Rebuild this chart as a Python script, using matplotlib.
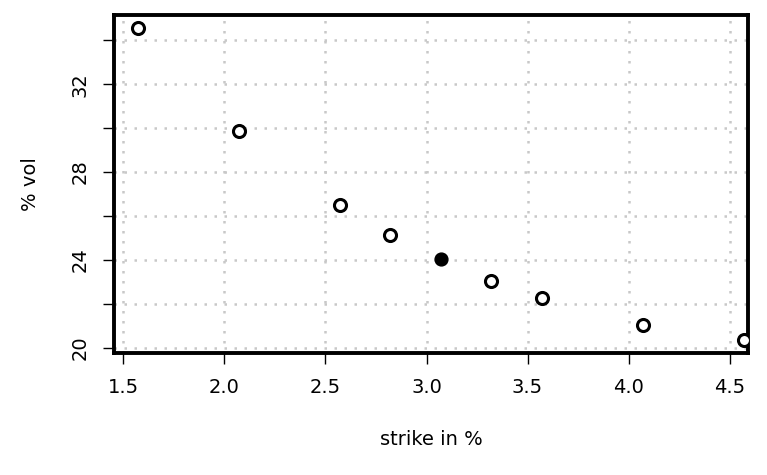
import matplotlib.pyplot as plt

strike = [1.57, 2.07, 2.57, 2.82, 3.07, 3.32, 3.57, 4.07, 4.57]
vol = [34.55, 29.86, 26.5, 25.15, 24.05, 23.05, 22.25, 21.05, 20.35]
atm_index = 4

fig = plt.figure(figsize=(7.67, 4.75), dpi=100)
ax = fig.add_axes([0.149, 0.257, 0.826, 0.711])

others = [i for i in range(len(strike)) if i != atm_index]
ax.scatter([strike[i] for i in others], [vol[i] for i in others], s=75,
           facecolors='white', edgecolors='black', linewidths=2.2, zorder=3)
ax.scatter([strike[atm_index]], [vol[atm_index]], s=85, color='black', zorder=3)

ax.set_xlim(1.455, 4.59)
ax.set_ylim(19.77, 35.14)
ax.set_xticks([1.5, 2.0, 2.5, 3.0, 3.5, 4.0, 4.5])
ax.set_yticks(range(20, 35, 2))
ax.set_yticklabels([str(v) if v % 4 == 0 else '' for v in range(20, 35, 2)],
                   rotation=90, va='center')
ax.grid(True, color='#c8c8c8', linestyle=(0, (1, 3)), linewidth=1.8)
ax.set_axisbelow(True)
for s in ax.spines.values():
    s.set_linewidth(2.8)
ax.tick_params(labelsize=14, length=8, width=1, pad=10)
ax.set_xlabel('strike in %', fontsize=14, labelpad=24)
ax.set_ylabel('% vol', fontsize=14, labelpad=22)

fig.savefig('out.png', dpi=100)
